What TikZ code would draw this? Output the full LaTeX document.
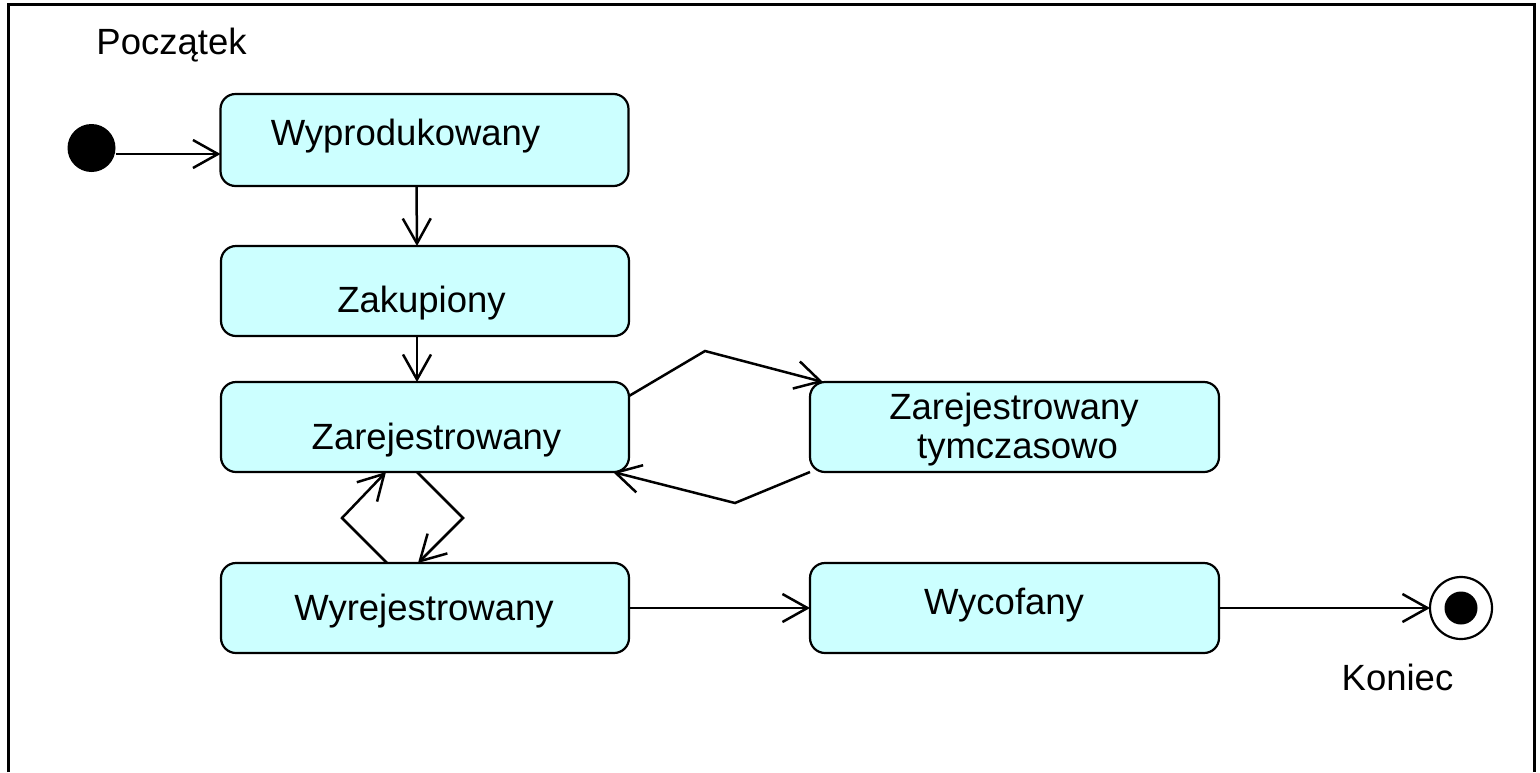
\documentclass[tikz,border=0pt]{standalone}
\usepackage{fontspec}
\setmainfont{Liberation Sans}
\usetikzlibrary{arrows.meta}
\definecolor{statefill}{RGB}{204,255,255}
\begin{document}
\begin{tikzpicture}[x=1pt,y=-1pt,
  statebox/.style={draw=black, line width=2.2pt, fill=statefill, rounded corners=15pt,
    minimum width=408pt, minimum height=90pt, inner sep=0pt, outer sep=0pt},
  lbl/.style={anchor=base, inner sep=0pt, font=\fontsize{36.5}{39}\selectfont},
  trans/.style={line width=2.5pt, -{Straight Barb[length=25pt,width=28pt]}},
]
\useasboundingbox (0,0) rectangle (1540,772);
% frame
\draw[line width=3pt] (8.5,772) -- (8.5,4) -- (1534,4) -- (1534,772);

% pseudo states
\node[circle, fill=black, minimum size=48pt, inner sep=0pt, outer sep=0pt] (start) at (91.5,148) {};
\node[circle, draw=black, line width=2.2pt, fill=white, minimum size=62pt, inner sep=0pt, outer sep=0pt] (end) at (1461,608) {};
\node[circle, fill=black, minimum size=33pt, inner sep=0pt] (endcore) at (1461,608) {};
\node[lbl] (tstart) at (171.5,54) {Początek};
\node[lbl] (tend) at (1397.5,690) {Koniec};

% states
\node[statebox, minimum height=92pt] (s1) at (424.5,140) {};
\node[statebox] (s2) at (425,291) {};
\node[statebox] (s3) at (425,427) {};
\node[statebox, minimum width=409pt] (s4) at (1014.5,427) {};
\node[statebox] (s5) at (425,608) {};
\node[statebox, minimum width=409pt] (s6) at (1014.5,608) {};

\node[lbl] (t1) at (405.5,145) {Wyprodukowany};
\node[lbl] (t2) at (421.5,312) {Zakupiony};
\node[lbl] (t3) at (436.5,449) {Zarejestrowany};
\node[lbl] (t4a) at (1014,419) {Zarejestrowany};
\node[lbl] (t4b) at (1017.5,458) {tymczasowo};
\node[lbl] (t5) at (424,620) {Wyrejestrowany};
\node[lbl] (t6) at (1004,614) {Wycofany};

% bend points
\coordinate (up1) at (705,351);
\coordinate (dn1) at (735,503);
\coordinate (dl) at (342,518);
\coordinate (dr) at (463,518);

% transitions
\draw[trans] ([yshift=-6pt]start.east) -- ([yshift=-14pt]s1.west);
\draw[trans] ([xshift=-8pt]s1.south) -- ([xshift=-8pt]s2.north);
\draw[trans] ([xshift=-8pt]s2.south) -- ([xshift=-8pt]s3.north);
\draw[trans] ([yshift=31pt]s3.east) -- (up1) -- ([xshift=-191.5pt]s4.north);
\draw[trans] (s4.south west) -- (dn1) -- ([xshift=188pt]s3.south);
\draw[trans] ([xshift=-38pt]s5.north) -- (dl) -- ([xshift=-39pt]s3.south);
\draw[trans] ([xshift=-8pt]s3.south) -- (dr) -- ([xshift=-7pt]s5.north);
\draw[trans] (s5.east) -- (s6.west);
\draw[trans] (s6.east) -- (end.west);
\end{tikzpicture}
\end{document}
